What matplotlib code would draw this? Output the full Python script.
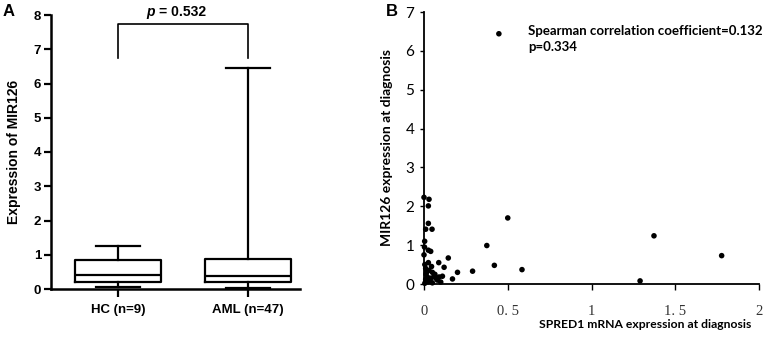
import matplotlib
matplotlib.use("Agg")
import matplotlib.pyplot as plt

# ---------------- Data ----------------
groups = ["HC (n=9)", "AML (n=47)"]
whislo = [0.07, 0.03]
q1 = [0.21, 0.19]
med = [0.40, 0.37]
q3 = [0.85, 0.88]
whishi = [1.26, 6.46]
p_value_text = "= 0.532"
bracket_top = 7.74
bracket_leg = 6.75

spred1 = [0.0, 0.03, 0.026, 0.026, 0.01, 0.048, 0.004, 0.003, 0.026, 0.04,
          0.0, 0.50, 0.375, 0.42, 0.585, 0.29, 0.20, 0.17, 0.145, 0.088,
          0.12, 0.026, 1.373, 1.777, 1.29, 0.447,
          0.01, 0.03, 0.05, 0.012, 0.06, 0.04, 0.08, 0.01, 0.025, 0.10,
          0.05, 0.005, 0.065, 0.02, 0.035, 0.015, 0.07, 0.005, 0.045, 0.09, 0.11]
mir126 = [2.23, 2.18, 2.01, 1.56, 1.41, 1.41, 1.10, 0.95, 0.87, 0.84,
          0.75, 1.70, 0.99, 0.48, 0.37, 0.33, 0.30, 0.13, 0.67, 0.55,
          0.43, 0.55, 1.24, 0.73, 0.08, 6.44,
          0.40, 0.35, 0.30, 0.25, 0.20, 0.15, 0.10, 0.12, 0.06, 0.05,
          0.03, 0.02, 0.25, 0.18, 0.08, 0.30, 0.15, 0.50, 0.45, 0.18, 0.20]
spearman_text = "Spearman correlation coefficient=0.132"
spearman_p = "p=0.334"

W, H = 765, 337
fig = plt.figure(figsize=(W / 100, H / 100), dpi=100)

def fx(px):
    return px / W

def fy(py):
    return 1 - py / H

# ---------------- Panel A ----------------
axA = fig.add_axes([fx(51), fy(289), (300 - 51) / W, (289 - 15) / H])
stats = []
for i in range(len(groups)):
    stats.append(dict(label=groups[i], whislo=whislo[i], q1=q1[i], med=med[i],
                      q3=q3[i], whishi=whishi[i], fliers=[]))
lw = 1.6
axA.bxp(stats, positions=[1, 2], widths=0.667, capwidths=0.34, showfliers=False,
        boxprops=dict(color="black", linewidth=lw),
        whiskerprops=dict(color="black", linewidth=lw),
        capprops=dict(color="black", linewidth=lw),
        medianprops=dict(color="black", linewidth=lw))
axA.set_xlim(0.485, 2.4)
axA.set_ylim(0, 8)
axA.set_yticks(range(0, 9))
axA.set_xticks([1, 2])
axA.set_xticklabels(groups)
for s in ["top", "right"]:
    axA.spines[s].set_visible(False)
for s in ["left", "bottom"]:
    axA.spines[s].set_linewidth(1.8)
axA.tick_params(axis="both", direction="out", width=1.6, length=5, pad=2)
axA.tick_params(axis="x", length=6, pad=5)
for lab in axA.get_yticklabels() + axA.get_xticklabels():
    lab.set_fontfamily("Liberation Sans")
    lab.set_fontweight("bold")
for lab in axA.get_yticklabels():
    lab.set_fontsize(9.5)
for lab in axA.get_xticklabels():
    lab.set_fontsize(9.5)
axA.set_ylabel("Expression of MIR126", fontfamily="Liberation Sans",
               fontweight="bold", fontsize=10)
axA.yaxis.set_label_coords((21 - 51) / 249, 0.5)
# significance bracket
axA.plot([1, 1, 2, 2], [bracket_leg, bracket_top, bracket_top, bracket_leg],
         color="black", lw=1.2, clip_on=False)
fig.text(fx(155), fy(12), "p", ha="right", va="center", fontfamily="Liberation Sans",
         fontweight="bold", fontstyle="italic", fontsize=10)
fig.text(fx(159), fy(12), p_value_text, ha="left", va="center",
         fontfamily="Liberation Sans", fontweight="bold", fontsize=10)
fig.text(fx(9), fy(11), "A", ha="center", va="center", fontfamily="Liberation Sans",
         fontweight="bold", fontsize=12)

# ---------------- Panel B ----------------
axB = fig.add_axes([fx(424), fy(284), (759 - 424) / W, (284 - 12) / H])
axB.scatter(spred1, mir126, s=16, color="black", edgecolors="none", clip_on=False)
axB.set_xlim(0, 2)
axB.set_ylim(0, 7)
axB.set_yticks(range(0, 8))
axB.set_xticks([0, 0.5, 1, 1.5, 2])
axB.set_xticklabels(["0", "0. 5", "1", "1. 5", "2"])
for s in ["top", "right"]:
    axB.spines[s].set_visible(False)
for s in ["left", "bottom"]:
    axB.spines[s].set_linewidth(1.3)
axB.tick_params(axis="y", direction="out", width=1.0, length=3, pad=4)
axB.tick_params(axis="x", direction="out", width=1.0, length=4, pad=11)
for lab in axB.get_yticklabels():
    lab.set_fontfamily("Lato")
    lab.set_fontsize(11)
for lab in axB.get_xticklabels():
    lab.set_fontfamily("Liberation Serif")
    lab.set_fontsize(10.5)
    lab.set_color("#333333")
axB.set_xlabel("SPRED1 mRNA expression at diagnosis", fontfamily="Lato",
               fontweight="bold", fontsize=8.7)
axB.xaxis.set_label_coords((645 - 424) / 335, (284 - 319) / 272)
axB.set_ylabel("MIR126 expression at diagnosis", fontfamily="Lato",
               fontweight="bold", fontsize=10)
axB.yaxis.set_label_coords((393 - 424) / 335, 0.5)
fig.text(fx(528), fy(31), spearman_text, ha="left", va="center", fontfamily="Lato",
         fontweight="bold", fontsize=9.5)
fig.text(fx(528), fy(47), spearman_p, ha="left", va="center", fontfamily="Lato",
         fontweight="bold", fontsize=9.5)
fig.text(fx(392), fy(12), "B", ha="center", va="center", fontfamily="Liberation Sans",
         fontweight="bold", fontsize=12)

fig.savefig("out.png", dpi=100)
